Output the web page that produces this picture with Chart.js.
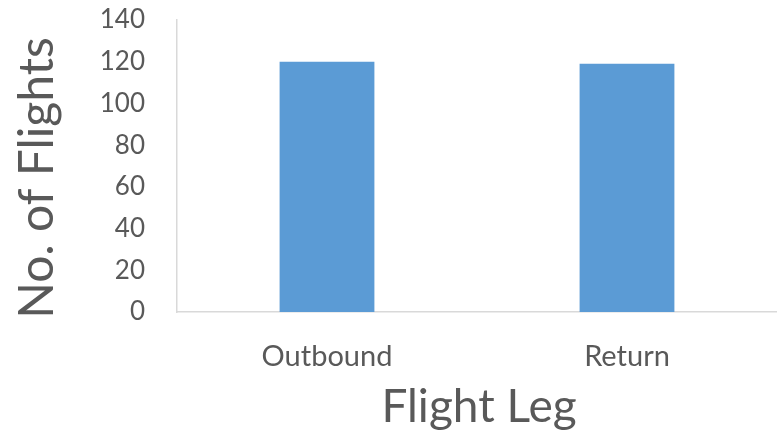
<!DOCTYPE html>
<html>
<head>
<meta charset="utf-8">
<script src="https://cdn.jsdelivr.net/npm/chart.js@4/dist/chart.umd.min.js"></script>
<style>
  html, body { margin: 0; padding: 0; background: #ffffff; }
  #wrap { width: 777px; height: 443px; }
</style>
</head>
<body>
<div id="wrap"><canvas id="c" width="777" height="443"></canvas></div>
<script>
// Number of flights per flight leg
const categories = ["Outbound", "Return"];
const flights = [120, 119];
const yTicks = { min: 0, max: 140, step: 20 };
const xTitle = "Flight Leg";
const yTitle = "No. of Flights";

const TEXT = "#595959";
const AXIS = "#d9d9d9";
const BAR = "#5b9bd5";
const FONT = "Lato, 'Liberation Sans', sans-serif";

// Axis titles drawn next to the scales
const axisTitles = {
  id: "axisTitles",
  afterDraw(chart) {
    const { ctx, chartArea } = chart;
    ctx.save();
    ctx.fillStyle = TEXT;
    ctx.textAlign = "center";
    ctx.textBaseline = "alphabetic";
    ctx.font = "46px " + FONT;
    ctx.fillText(xTitle, (chartArea.left + chartArea.right) / 2 + 2, 422);
    ctx.translate(53, (chartArea.top + chartArea.bottom) / 2 + 12);
    ctx.rotate(-Math.PI / 2);
    ctx.font = "48px " + FONT;
    ctx.fillText(yTitle, 0, 0);
    ctx.restore();
  }
};

new Chart(document.getElementById("c"), {
  type: "bar",
  data: {
    labels: categories,
    datasets: [{
      data: flights,
      backgroundColor: BAR,
      borderWidth: 0,
      categoryPercentage: 1,
      barPercentage: 0.316
    }]
  },
  options: {
    responsive: false,
    animation: false,
    devicePixelRatio: 1,
    layout: { padding: { top: 20, right: 0, left: 0, bottom: 0 } },
    plugins: { legend: { display: false }, tooltip: { enabled: false } },
    scales: {
      x: {
        grid: { display: false, drawTicks: false },
        border: { display: true, color: AXIS, width: 1.5 },
        ticks: { color: TEXT, font: { family: FONT, size: 29 }, padding: 27 },
        afterFit(scale) {
          scale.height = 131;
          scale.paddingLeft = 0;
          scale.paddingRight = 0;
        }
      },
      y: {
        min: yTicks.min,
        max: yTicks.max,
        grid: { display: false, drawTicks: false },
        border: { display: true, color: AXIS, width: 1.5 },
        ticks: {
          stepSize: yTicks.step,
          color: TEXT,
          font: { family: FONT, size: 26 },
          padding: 32
        },
        afterFit(scale) {
          scale.width = 177;
          scale.paddingTop = 0;
          scale.paddingBottom = 0;
        }
      }
    }
  },
  plugins: [axisTitles]
});
</script>
</body>
</html>
